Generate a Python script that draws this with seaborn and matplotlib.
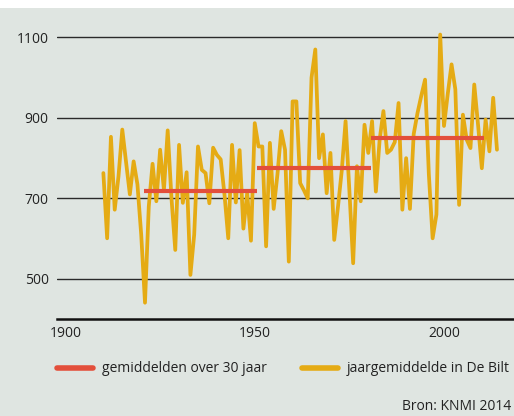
import matplotlib
matplotlib.use("Agg")
import matplotlib.pyplot as plt
import seaborn as sns
import pandas as pd
from matplotlib.patches import Rectangle
from matplotlib.lines import Line2D

# jaarlijkse neerslag De Bilt (mm)
jaren = list(range(1910, 2015))
neerslag = [763, 601, 853, 672, 755, 871, 790, 710, 792, 735,
            610, 441, 680, 786, 693, 821, 721, 869, 700, 572,
            833, 689, 765, 510, 610, 829, 771, 763, 688, 826,
            808, 797, 710, 601, 833, 690, 820, 625, 713, 595,
            887, 829, 829, 581, 838, 674, 760, 867, 821, 543,
            941, 941, 738, 720, 700, 1000, 1070, 800, 859, 713,
            813, 597, 680, 770, 892, 720, 539, 780, 693, 883,
            813, 892, 717, 846, 917, 813, 821, 840, 937, 672,
            800, 674, 860, 912, 955, 995, 760, 601, 660, 1107,
            880, 960, 1033, 971, 684, 908, 846, 825, 983, 883,
            775, 896, 817, 950, 821]

# 30-jaarsgemiddelden
periode_start = [1921, 1951, 1981]
periode_eind = [1950, 1980, 2010]
periode_gem = [718, 775, 851]

y_ticks = [500, 700, 900, 1100]
x_ticks = [1900, 1950, 2000]
labels = ["gemiddelden over 30 jaar", "jaargemiddelde in De Bilt"]

bg = "#dfe5e1"
geel = "#e5ab14"
rood = "#e34f3b"
tekst = "#222222"

sns.set_theme(style="white")
plt.rcParams["font.family"] = ["Open Sans", "DejaVu Sans"]

fig = plt.figure(figsize=(5.14, 4.16), dpi=100, facecolor="white")
fig.patches.append(Rectangle((0, 0), 1, 1 - 8 / 416, transform=fig.transFigure,
                             facecolor=bg, edgecolor="none", zorder=-10))

ax = fig.add_axes([57 / 514, 97 / 416, 457 / 514, 311 / 416])
ax.set_facecolor("none")

df = pd.DataFrame({"jaar": jaren, "neerslag": neerslag})
sns.lineplot(data=df, x="jaar", y="neerslag", color=geel, lw=2.7, ax=ax, zorder=3)

for s, e, m in zip(periode_start, periode_eind, periode_gem):
    ax.hlines(m, s - 0.3, e + 0.6, color=rood, lw=3.0, zorder=4)

ax.set_xlim(1897.75, 2018.5)
ax.set_ylim(400.5, 1173)
ax.set_xticks(x_ticks)
ax.set_yticks(y_ticks)
ax.set_xlabel("")
ax.set_ylabel("")
ax.yaxis.grid(True, color="#2a2a2a", lw=1.0)
ax.xaxis.grid(False)
ax.set_axisbelow(True)
ax.tick_params(axis="both", length=0, labelsize=10, labelcolor=tekst)
ax.tick_params(axis="y", pad=6)
ax.tick_params(axis="x", pad=5)

for side in ["left", "right", "top"]:
    ax.spines[side].set_visible(False)
ax.spines["bottom"].set_color("#111111")
ax.spines["bottom"].set_linewidth(1.8)

handles = [Line2D([], [], color=rood, lw=4), Line2D([], [], color=geel, lw=4)]
fig.legend(handles, labels, loc="center left", bbox_to_anchor=(57 / 514, 1 - 369 / 416),
           ncol=2, frameon=False, fontsize=10, handlelength=2.6, handletextpad=0.65,
           columnspacing=2.5, borderpad=0, borderaxespad=0, labelcolor=tekst)

fig.text(511 / 514, 1 - 407 / 416, "Bron: KNMI 2014", ha="right", va="center",
         fontsize=10, color=tekst)

fig.savefig("out.png", dpi=100, facecolor="white")
